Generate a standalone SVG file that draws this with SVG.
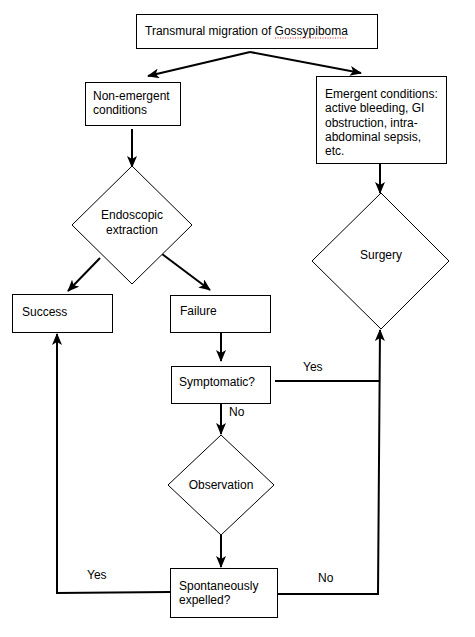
<svg xmlns="http://www.w3.org/2000/svg" width="475" height="637" viewBox="0 0 475 637">
<style>
.box{fill:#fff;stroke:#000;stroke-width:1}
.t{font-family:"Liberation Sans",Arial,sans-serif;font-size:12px;fill:#000}
.c{fill:none;stroke:#000;stroke-width:2}
.m{text-anchor:middle}
</style>
<defs>
<marker id="ah" markerUnits="userSpaceOnUse" markerWidth="12" markerHeight="10" refX="11" refY="5" orient="auto">
<path d="M0,0 L12,5 L0,10 L3,5 Z" fill="#000"/>
</marker>
</defs>
<rect width="475" height="637" fill="#fff"/>
<g id="connectors">
<path class="c" d="M250,52 L148,76" marker-end="url(#ah)"/>
<path class="c" d="M250,52 L361,73" marker-end="url(#ah)"/>
<path class="c" d="M132,129 L132,167" marker-end="url(#ah)"/>
<path class="c" d="M380,164 L380,193" marker-end="url(#ah)"/>
<path class="c" d="M100,258 L68,291" marker-end="url(#ah)"/>
<path class="c" d="M162,254 L210,290" marker-end="url(#ah)"/>
<path class="c" d="M221,333 L221,361" marker-end="url(#ah)"/>
<path class="c" d="M275,381 L380,381"/>
<path class="c" d="M221,404 L221,434" marker-end="url(#ah)"/>
<path class="c" d="M221,535 L221,567" marker-end="url(#ah)"/>
<path class="c" d="M170,592 L57,593 L57,334" marker-end="url(#ah)"/>
<path class="c" d="M277,594 L378,594 L380,330" marker-end="url(#ah)"/>
<text class="t" x="303" y="371">Yes</text>
<text class="t" x="229" y="416">No</text>
<text class="t" x="87" y="579">Yes</text>
<text class="t" x="318" y="582">No</text>
</g>
<g id="n-top">
<rect class="box" x="136.5" y="14.5" width="241" height="34"/>
<text class="t" x="145" y="35">Transmural migration of Gossypiboma</text>
<path d="M275,38 L347,38" stroke="#e03030" stroke-width="1" stroke-dasharray="1,1.5"/>
</g>
<g id="n-nonemergent">
<rect class="box" x="85.5" y="82.5" width="95" height="43"/>
<text class="t" x="93" y="100">Non-emergent</text>
<text class="t" x="93" y="114">conditions</text>
</g>
<g id="n-emergent">
<rect class="box" x="316.5" y="76.5" width="130" height="87"/>
<text class="t" x="325" y="98">Emergent conditions:</text>
<text class="t" x="325" y="112">active bleeding, GI</text>
<text class="t" x="325" y="127">obstruction, intra-</text>
<text class="t" x="325" y="141">abdominal sepsis,</text>
<text class="t" x="325" y="155">etc.</text>
</g>
<g id="n-endoscopic">
<path class="box" d="M132,166 L192,225 L132,284 L72,225 Z"/>
<text class="t m" x="132" y="219">Endoscopic</text>
<text class="t m" x="132" y="234">extraction</text>
</g>
<g id="n-surgery">
<path class="box" d="M381,193 L449,261 L381,329 L312,261 Z"/>
<text class="t m" x="381" y="259">Surgery</text>
</g>
<g id="n-success">
<rect class="box" x="12.5" y="294.5" width="100" height="38"/>
<text class="t" x="22" y="316">Success</text>
</g>
<g id="n-failure">
<rect class="box" x="170.5" y="295.5" width="100" height="37"/>
<text class="t" x="180" y="315">Failure</text>
</g>
<g id="n-symptomatic">
<rect class="box" x="171.5" y="366.5" width="99" height="37"/>
<text class="t" x="179" y="386">Symptomatic?</text>
</g>
<g id="n-observation">
<path class="box" d="M221,435 L274,485 L221,535 L168,485 Z"/>
<text class="t m" x="221" y="489">Observation</text>
</g>
<g id="n-spontaneous">
<rect class="box" x="170.5" y="568.5" width="107" height="49"/>
<text class="t" x="179" y="590">Spontaneously</text>
<text class="t" x="179" y="604">expelled?</text>
</g>
</svg>
